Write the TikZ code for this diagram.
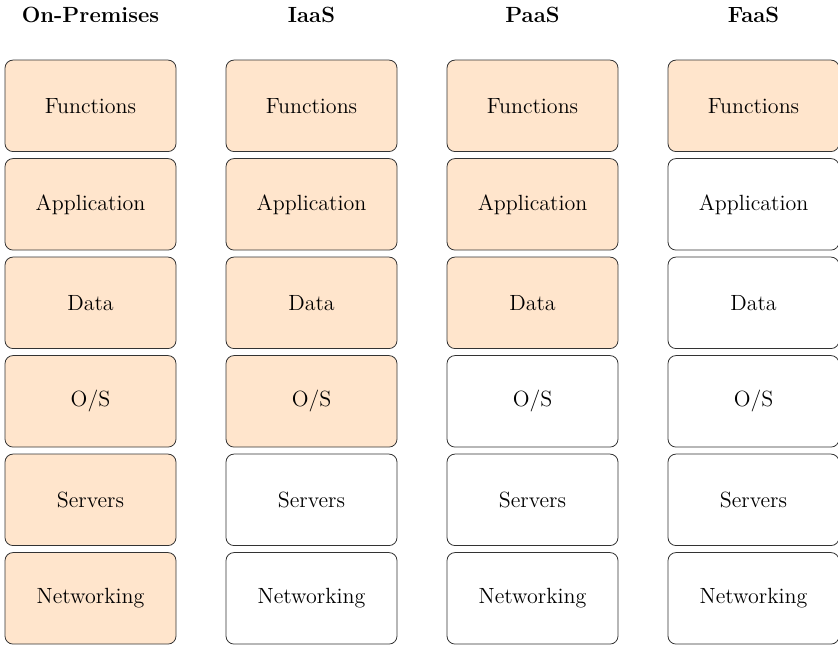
\documentclass[tikz,border=0pt]{standalone}
\usetikzlibrary{positioning}

\begin{document}
\begin{tikzpicture}[
    layer/.style={
      draw = black!80,
      rounded corners = 4pt,
      minimum width = 85.5pt,
      minimum height = 45.75pt,
      font = \fontsize{11}{13}\selectfont,
    },
    managed/.style={
      layer,
      fill = orange!20,
    },
    header/.style={
      font = \fontsize{11}{13}\selectfont\bfseries,
    },
    node distance = 3.1pt,
  ]
  \useasboundingbox (0,0) rectangle (419pt,-322.5pt);
  % column headers
  \node [header] (head-onprem) at (45.25pt,-7.5pt) {On-Premises};
  \node [header] (head-iaas) at (155.75pt,-7.5pt) {IaaS};
  \node [header] (head-paas) at (266.25pt,-7.5pt) {PaaS};
  \node [header] (head-faas) at (376.75pt,-7.5pt) {FaaS};
  % On-Premises
  \node [managed] (onprem-fn) at (45.25pt,-52.9pt) {Functions};
  \node [managed, below=of onprem-fn] (onprem-app) {Application};
  \node [managed, below=of onprem-app] (onprem-data) {Data};
  \node [managed, below=of onprem-data] (onprem-os) {O/S};
  \node [managed, below=of onprem-os] (onprem-srv) {Servers};
  \node [managed, below=of onprem-srv] (onprem-net) {Networking};
  % IaaS
  \node [managed] (iaas-fn) at (155.75pt,-52.9pt) {Functions};
  \node [managed, below=of iaas-fn] (iaas-app) {Application};
  \node [managed, below=of iaas-app] (iaas-data) {Data};
  \node [managed, below=of iaas-data] (iaas-os) {O/S};
  \node [layer, below=of iaas-os] (iaas-srv) {Servers};
  \node [layer, below=of iaas-srv] (iaas-net) {Networking};
  % PaaS
  \node [managed] (paas-fn) at (266.25pt,-52.9pt) {Functions};
  \node [managed, below=of paas-fn] (paas-app) {Application};
  \node [managed, below=of paas-app] (paas-data) {Data};
  \node [layer, below=of paas-data] (paas-os) {O/S};
  \node [layer, below=of paas-os] (paas-srv) {Servers};
  \node [layer, below=of paas-srv] (paas-net) {Networking};
  % FaaS
  \node [managed] (faas-fn) at (376.75pt,-52.9pt) {Functions};
  \node [layer, below=of faas-fn] (faas-app) {Application};
  \node [layer, below=of faas-app] (faas-data) {Data};
  \node [layer, below=of faas-data] (faas-os) {O/S};
  \node [layer, below=of faas-os] (faas-srv) {Servers};
  \node [layer, below=of faas-srv] (faas-net) {Networking};
\end{tikzpicture}
\end{document}
